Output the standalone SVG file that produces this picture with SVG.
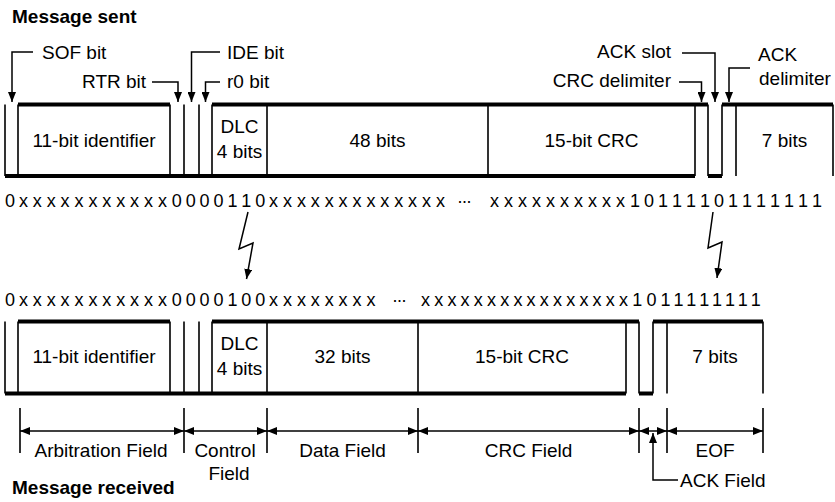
<svg xmlns="http://www.w3.org/2000/svg" width="835" height="502" viewBox="0 0 835 502">
<defs>
<style>
text{font-family:"Liberation Sans",Arial,sans-serif;fill:#000}
.lbl{font-size:19px}
.ttl{font-size:19px;font-weight:bold}
.mid{text-anchor:middle}
.end{text-anchor:end}
.bits{font-size:18px}
.thick{stroke:#000;stroke-width:4;fill:none;stroke-linecap:butt}
.thin{stroke:#000;stroke-width:1.6;fill:none}
.arr{stroke:#000;stroke-width:1.5;fill:none;marker-end:url(#ah)}
.dim{stroke:#000;stroke-width:1.5;fill:none;marker-end:url(#ah);marker-start:url(#ahs)}
</style>
<marker id="ah" viewBox="0 0 10 8" refX="10" refY="4" markerWidth="10" markerHeight="8" markerUnits="userSpaceOnUse" orient="auto"><path d="M0,0L10,4L0,8z" fill="#000"/></marker>
<marker id="ahs" viewBox="0 0 10 8" refX="10" refY="4" markerWidth="10" markerHeight="8" markerUnits="userSpaceOnUse" orient="auto-start-reverse"><path d="M0,0L10,4L0,8z" fill="#000"/></marker>
</defs>

<text class="ttl" x="12" y="23">Message sent</text>
<text class="ttl" x="12" y="494">Message received</text>

<!-- top waveform -->
<g id="sent-frame">
<path class="thick" d="M5,176H695M708,176H722M18,104.5H170M212,104.5H708M722,104.5H833"/>
<path class="thin" d="M5,104.5V176M18,104.5V176M170,104.5V176M184,104.5V176M199,104.5V176M212,104.5V176M267,104.5V176M488,104.5V176M695,104.5V176M708,104.5V176M722,104.5V176M736,104.5V176M833,104.5V176"/>
<text class="lbl mid" x="94" y="146.5">11-bit identifier</text>
<text class="lbl mid" x="239.5" y="133">DLC</text>
<text class="lbl mid" x="239.5" y="158">4 bits</text>
<text class="lbl mid" x="377.5" y="146.5">48 bits</text>
<text class="lbl mid" x="591.5" y="146.5">15-bit CRC</text>
<text class="lbl mid" x="784.5" y="146.5">7 bits</text>
</g>

<!-- bottom waveform -->
<g id="received-frame">
<path class="thick" d="M5,393.5H626M639,393.5H653M18,321.5H170M212,321.5H639M653,321.5H763"/>
<path class="thin" d="M5,321.5V393.5M18,321.5V393.5M170,321.5V393.5M184,321.5V393.5M199,321.5V393.5M212,321.5V393.5M267,321.5V393.5M418,321.5V393.5M626,321.5V393.5M639,321.5V393.5M653,321.5V393.5M667,321.5V393.5M763,321.5V393.5"/>
<text class="lbl mid" x="94" y="363">11-bit identifier</text>
<text class="lbl mid" x="239.5" y="350">DLC</text>
<text class="lbl mid" x="239.5" y="375">4 bits</text>
<text class="lbl mid" x="342.5" y="363">32 bits</text>
<text class="lbl mid" x="522" y="363">15-bit CRC</text>
<text class="lbl mid" x="715" y="363">7 bits</text>
</g>

<!-- bit strings -->
<g id="bits-sent">
<text class="bits" x="5 18.9 32.8 46.7 60.6 74.5 88.4 102.3 116.2 130.1 144 157.9 171.8 185.7 199.6 213.5 227.4 241.3 255.2 269.1 283 296.9 310.8 324.7 338.6 352.5 366.4 380.3 394.2 408.1 422 435.9" y="207">0xxxxxxxxxxx0000110xxxxxxxxxxxxx</text>
<text class="bits" x="457 461.5 466" y="207">···</text>
<text class="bits" x="490 504 518 532 546 560 574 588 602 616 630 644 658 672 686 700 714 728 742 756 770 784 798 812" y="207">xxxxxxxxxx10111101111111</text>
</g>
<g id="bits-received">
<text class="bits" x="5 18.9 32.8 46.7 60.6 74.5 88.4 102.3 116.2 130.1 144 157.9 171.8 185.7 199.6 213.5 227.4 241.3 255.2 269.1 283 296.9 310.8 324.7 338.6 352.5 366.4" y="306">0xxxxxxxxxxx0000100xxxxxxxx</text>
<text class="bits" x="392 396.5 401" y="306">···</text>
<text class="bits" x="421" y="306" letter-spacing="4.2">xxxxxxxxxxxxxxxx1011111111</text>
</g>

<!-- top labels -->
<g id="lbl-sof"><text class="lbl" x="42" y="59">SOF bit</text></g>
<g id="lbl-rtr"><text class="lbl" x="82" y="88">RTR bit</text></g>
<g id="lbl-ide"><text class="lbl" x="227" y="59">IDE bit</text></g>
<g id="lbl-r0"><text class="lbl" x="227" y="88">r0 bit</text></g>
<g id="lbl-ackslot"><text class="lbl end" x="671" y="58">ACK slot</text></g>
<g id="lbl-crcdel"><text class="lbl end" x="671" y="87">CRC delimiter</text></g>
<g id="lbl-ackdel"><text class="lbl" x="758" y="61">ACK</text><text class="lbl" x="759" y="85">delimiter</text></g>

<!-- field labels -->
<g id="fld-arb"><text class="lbl mid" x="101" y="457">Arbitration Field</text></g>
<g id="fld-ctl"><text class="lbl mid" x="225" y="457">Control</text><text class="lbl mid" x="229" y="480">Field</text></g>
<g id="fld-data"><text class="lbl mid" x="342.5" y="457">Data Field</text></g>
<g id="fld-crc"><text class="lbl mid" x="528.5" y="457">CRC Field</text></g>
<g id="fld-eof"><text class="lbl mid" x="715" y="457">EOF</text></g>
<g id="fld-ack"><text class="lbl" x="680" y="487">ACK Field</text></g>

<g id="connectors">
<path class="arr" d="M33,52H12V102"/>
<path class="arr" d="M152,82H178V102"/>
<path class="arr" d="M220,52H191.5V102"/>
<path class="arr" d="M220,82H205.5V102"/>
<path class="arr" d="M679,82H701.5V102"/>
<path class="arr" d="M682,53H715V102"/>
<path class="arr" d="M750,68H729V102"/>
<path class="arr" d="M248,212L239,249L253,243L246.5,279"/>
<path class="arr" d="M713,212L708,248L722,242L717,278"/>
<path class="thin" d="M20,408V453M184,408V453M267,408V453M418,408V453M639,408V453M667,408V453M763,408V453"/>
<path class="dim" d="M20,431H184"/>
<path class="dim" d="M184,431H267"/>
<path class="dim" d="M267,431H418"/>
<path class="dim" d="M418,431H639"/>
<path class="dim" d="M639,431H667"/>
<path class="dim" d="M667,431H763"/>
<path class="arr" d="M678,480H653V433"/>
</g>
</svg>
